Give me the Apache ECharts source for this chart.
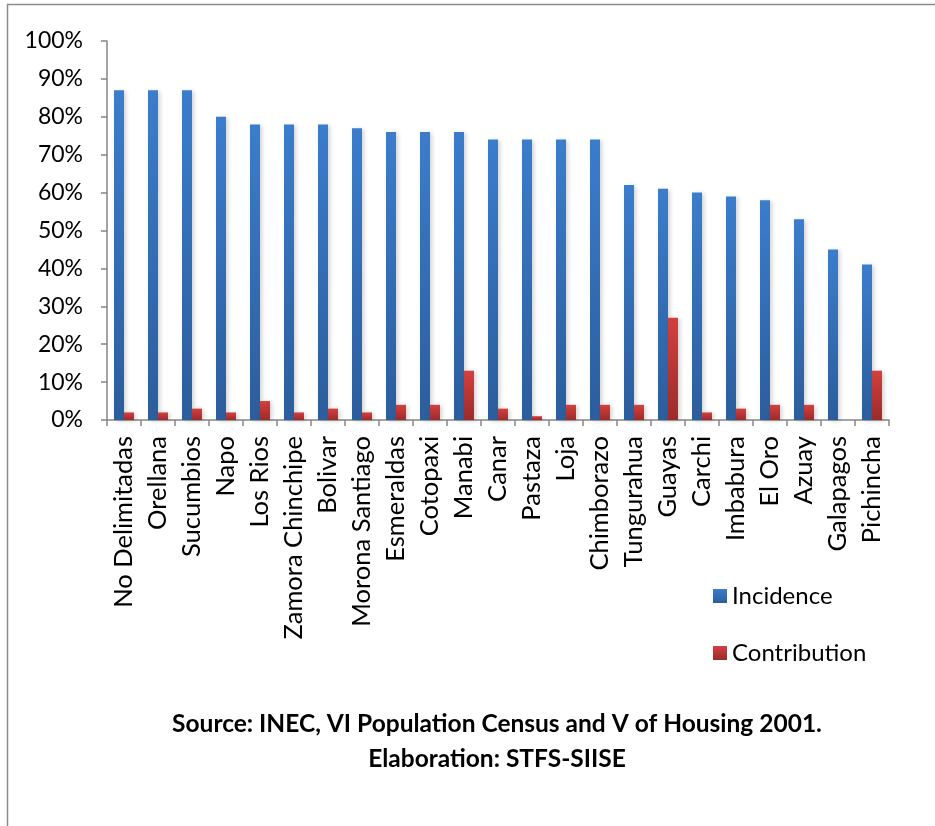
<!DOCTYPE html>
<html>
<head>
<meta charset="utf-8">
<script src="https://cdn.jsdelivr.net/npm/echarts@6/dist/echarts.min.js"></script>
<style>
  html, body { margin: 0; padding: 0; background: #fff; }
  #chart { width: 935px; height: 826px; }
</style>
</head>
<body>
<div id="chart"></div>
<script>
// provinces, ordered by incidence
const provinces = ['No Delimitadas', 'Orellana', 'Sucumbios', 'Napo', 'Los Rios', 'Zamora Chinchipe',
    'Bolivar', 'Morona Santiago', 'Esmeraldas', 'Cotopaxi', 'Manabi', 'Canar', 'Pastaza', 'Loja',
    'Chimborazo', 'Tungurahua', 'Guayas', 'Carchi', 'Imbabura', 'El Oro', 'Azuay', 'Galapagos', 'Pichincha']
const incidence = [87, 87, 87, 80, 78, 78, 78, 77, 76, 76, 76, 74, 74, 74, 74, 62, 61, 60, 59, 58, 53, 45, 41]
const contribution = [2, 2, 3, 2, 5, 2, 3, 2, 4, 4, 13, 3, 1, 4, 4, 4, 27, 2, 3, 4, 4, 0, 13]
const sourceLines = ['Source: INEC, VI Population Census and V of Housing 2001.', 'Elaboration: STFS-SIISE']

const FONT = 'Lato'
const axisGray = '#868686'

// vertical gradient like the excel bars
const grad = (top, bottom) => ({
    type: 'linear', x: 0, y: 0, x2: 0, y2: 1,
    colorStops: [{ offset: 0, color: top }, { offset: 1, color: bottom }]
})

const chart = echarts.init(document.getElementById('chart'))
const option = {
    animation: false,
    textStyle: { fontFamily: FONT },
    grid: { left: 107, right: 46, top: 41, bottom: 406, containLabel: false },
    legend: {
        orient: 'vertical',
        left: 708,
        top: 579,
        itemGap: 33,
        itemWidth: 14,
        itemHeight: 14,
        icon: 'rect',
        textStyle: { fontFamily: FONT, fontSize: 24, color: '#000' },
        data: ['Incidence', 'Contribution']
    },
    xAxis: {
        type: 'category',
        data: provinces,
        boundaryGap: true,
        axisLine: { lineStyle: { color: axisGray, width: 1.5 } },
        axisTick: { show: true, alignWithLabel: false, length: 6, lineStyle: { color: axisGray, width: 1.5 } },
        axisLabel: {
            rotate: 90,
            interval: 0,
            margin: 16,
            color: '#000',
            fontFamily: FONT,
            fontSize: 25.5
        }
    },
    yAxis: {
        type: 'value',
        min: 0,
        max: 100,
        interval: 10,
        splitLine: { show: false },
        axisLine: { show: true, lineStyle: { color: axisGray, width: 1.5 } },
        axisTick: { show: true, inside: false, length: 6, lineStyle: { color: axisGray, width: 1.5 } },
        axisLabel: {
            formatter: '{value}%',
            color: '#000',
            fontFamily: FONT,
            fontSize: 23,
            margin: 24
        }
    },
    series: [
        {
            name: 'Incidence',
            type: 'bar',
            data: incidence,
            barWidth: 10,
            barGap: '0%',
            itemStyle: {
                color: grad('#3b7dcc', '#2c5d9c'),
                shadowColor: 'rgba(0,0,0,0.18)',
                shadowBlur: 4,
                shadowOffsetX: 2,
                shadowOffsetY: 1
            }
        },
        {
            name: 'Contribution',
            type: 'bar',
            data: contribution,
            barWidth: 10,
            barGap: '0%',
            itemStyle: {
                color: grad('#d3403e', '#9c2b2a'),
                shadowColor: 'rgba(0,0,0,0.18)',
                shadowBlur: 4,
                shadowOffsetX: 2,
                shadowOffsetY: 1
            }
        }
    ],
    graphic: [
        // outer frame (left + top edge)
        { type: 'line', shape: { x1: 7.5, y1: 4, x2: 7.5, y2: 826 }, style: { stroke: '#8c8c8c', lineWidth: 1.5 } },
        { type: 'line', shape: { x1: 7, y1: 4.5, x2: 935, y2: 4.5 }, style: { stroke: '#8c8c8c', lineWidth: 1.5 } },
        {
            type: 'text', x: 497, y: 724,
            style: { text: sourceLines[0], font: 'bold 24.5px ' + FONT, fill: '#000', align: 'center', verticalAlign: 'middle' }
        },
        {
            type: 'text', x: 497, y: 759,
            style: { text: sourceLines[1], font: 'bold 24.5px ' + FONT, fill: '#000', align: 'center', verticalAlign: 'middle' }
        }
    ]
}
chart.setOption(option)
</script>
</body>
</html>
